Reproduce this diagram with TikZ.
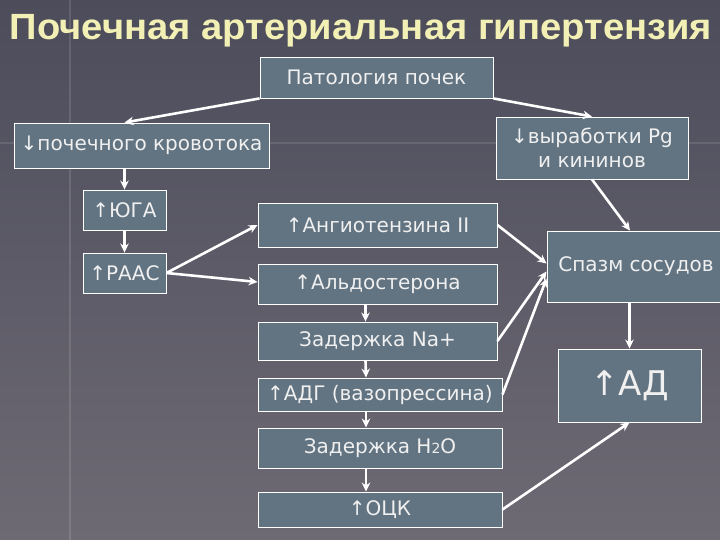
\documentclass[tikz,border=0pt]{standalone}
\usepackage{fontspec}
\setmainfont{DejaVu Sans}
\newfontfamily\titlefont[FakeStretch=1.045]{Liberation Sans}
\usetikzlibrary{arrows.meta}
\definecolor{bgtop}{RGB}{76,76,91}
\definecolor{bgbottom}{RGB}{110,106,116}
\definecolor{boxfill}{RGB}{98,116,130}
\definecolor{titleyellow}{RGB}{242,240,180}

\begin{document}
\begin{tikzpicture}[x=1pt, y=-1pt,
    block/.style={draw=white, line width=0.9pt, fill=boxfill, text=white!94!black,
        inner sep=0pt, align=center, font=\fontsize{20}{24}\selectfont},
    link/.style={white, line width=2.6pt, -{Stealth[length=9pt,width=8.5pt]}}]
    % Page and background
    \clip (0,0) rectangle (720,540);
    \shade[top color=bgtop, bottom color=bgbottom] (0,0) rectangle (720,540);
    \draw[white, opacity=0.12, line width=1.5pt] (70,0) -- (70,540);
    \draw[white, opacity=0.10, line width=1.5pt] (0,143) -- (720,143);
    % Title
    \node[anchor=base, text=titleyellow, inner sep=0pt,
        font=\titlefont\bfseries\fontsize{36.5}{40}\selectfont] (title) at (361,39.5)
        {Почечная артериальная гипертензия};
    % Blocks
    \node[block, minimum width=233pt, minimum height=41pt] (pat) at (376.5,77.5) {Патология почек};
    \node[block, minimum width=255pt, minimum height=45pt] (krov) at (141.5,145.5) {↓почечного кровотока};
    \node[block, minimum width=192pt, minimum height=62pt] (vyrab) at (592,148) {↓выработки Pg\\и кининов};
    \node[block, minimum width=83pt, minimum height=40pt] (yuga) at (124.5,210) {↑ЮГА};
    \node[block, minimum width=83pt, minimum height=40pt] (raas) at (124.5,273) {↑РААС};
    \node[block, minimum width=239pt, minimum height=44pt] (angio) at (377.5,225) {↑Ангиотензина II};
    \node[block, minimum width=239pt, minimum height=40pt] (aldo) at (377.5,284) {↑Альдостерона};
    \node[block, minimum width=178pt, minimum height=71pt] (spazm) at (636,266.5) {Спазм сосудов};
    \node[block, minimum width=239pt, minimum height=38pt] (na) at (377.5,341) {Задержка Na+};
    \node[block, minimum width=244pt, minimum height=33pt] (adg) at (380,394.5) {↑АДГ (вазопрессина)};
    \node[block, minimum width=244pt, minimum height=40pt] (voda) at (380,448)
        {Задержка H{\fontsize{14}{14}\selectfont 2}O};
    \node[block, minimum width=244pt, minimum height=35pt] (ock) at (380,509.5) {↑ОЦК};
    \node[block, minimum width=143pt, minimum height=73pt, font=\fontsize{34}{38}\selectfont]
        (ad) at (629.5,385.5) {↑АД};
    % Arrows
    \draw[link] (pat.south west) -- (krov.north -| yuga);
    \draw[link] (pat.south east) -- (vyrab.north);
    \draw[link] (yuga |- krov.south) -- (yuga.north);
    \draw[link] (yuga.south) -- (raas.north);
    \draw[link] (raas.east) -- (angio.west);
    \draw[link] (raas.east) -- ([yshift=2pt]aldo.west);
    \draw[link] ([xshift=-12pt]aldo.south) -- ([xshift=-12pt]na.north);
    \draw[link] ([xshift=-12pt]na.south) -- ([xshift=-14pt]adg.north);
    \draw[link] ([xshift=-14pt]adg.south) -- ([xshift=-14pt]voda.north);
    \draw[link] ([xshift=-14pt]voda.south) -- ([xshift=-14pt]ock.north);
    \draw[link] (angio.east) -- ([yshift=3pt]spazm.west);
    \draw[link] (na.east) -- ([yshift=-5pt]spazm.west);
    \draw[link] (adg.east) -- ([yshift=-12pt]spazm.west);
    \draw[link] (vyrab.south) -- ([xshift=-6pt]spazm.north);
    \draw[link] (ad |- spazm.south) -- (ad.north);
    \draw[link] (ock.east) -- (ad.south);
\end{tikzpicture}
\end{document}
